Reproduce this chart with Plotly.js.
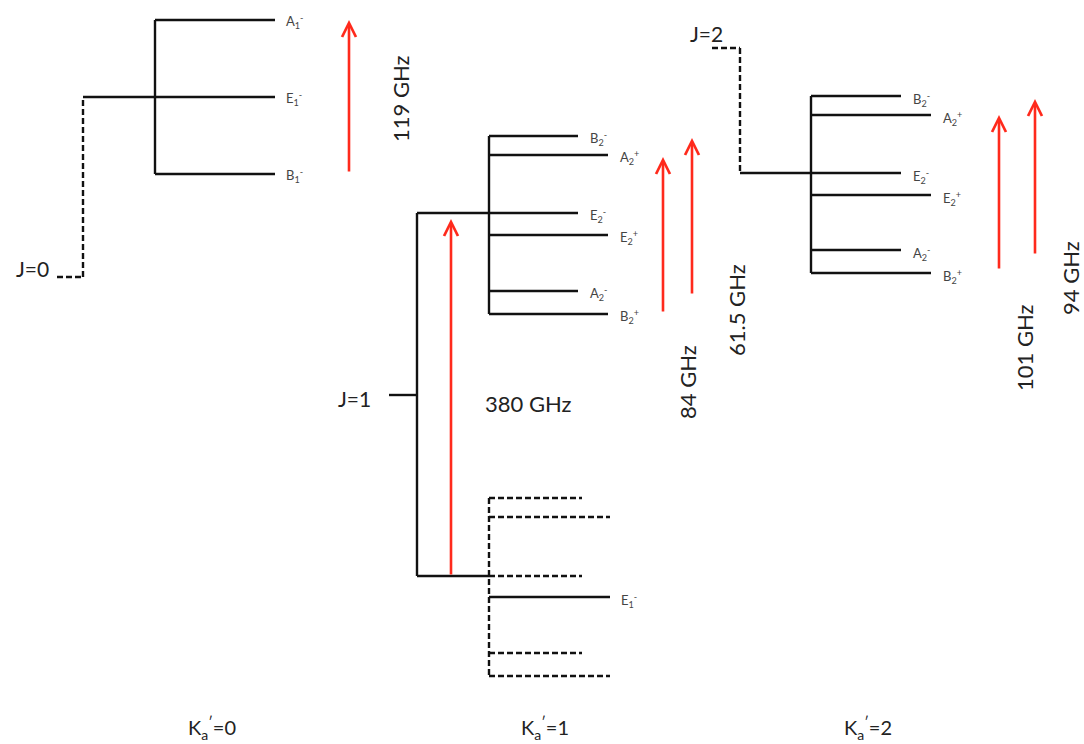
<!DOCTYPE html>
<html>
<head>
<meta charset="utf-8">
<script src="https://cdn.plot.ly/plotly-3.0.1.min.js"></script>
<style>html,body{margin:0;padding:0;background:#fff;}#chart{width:1084px;height:744px;}</style>
</head>
<body>
<div id="chart"></div>
<script>
// ---------------- DATA (level positions; y grows downward) ----------------
const groupLabels = ['K<sub>a</sub><sup>′</sup>=0', 'K<sub>a</sub><sup>′</sup>=1', 'K<sub>a</sub><sup>′</sup>=2'];
const jLabels = ['J=0', 'J=1', 'J=2'];
const jLevels = [277, 395, 48];

const k0States = ['A<sub>1</sub><sup>-</sup>', 'E<sub>1</sub><sup>-</sup>', 'B<sub>1</sub><sup>-</sup>'];
const k0Levels = [20, 97, 174];

const k1States = ['B<sub>2</sub><sup>-</sup>', 'A<sub>2</sub><sup>+</sup>', 'E<sub>2</sub><sup>-</sup>', 'E<sub>2</sub><sup>+</sup>', 'A<sub>2</sub><sup>-</sup>', 'B<sub>2</sub><sup>+</sup>'];
const k1Levels = [136, 155, 213, 235, 291, 314];

const k1LowerStates = ['', '', '', 'E<sub>1</sub><sup>-</sup>', '', ''];
const k1LowerLevels = [498, 517, 576, 597, 653, 676];
const k1LowerDashed = [true, true, true, false, true, true];

const k2States = ['B<sub>2</sub><sup>-</sup>', 'A<sub>2</sub><sup>+</sup>', 'E<sub>2</sub><sup>-</sup>', 'E<sub>2</sub><sup>+</sup>', 'A<sub>2</sub><sup>-</sup>', 'B<sub>2</sub><sup>+</sup>'];
const k2Levels = [96, 115, 173, 195, 250, 273];

const transLabels = ['119 GHz', '380 GHz', '84 GHz', '61.5 GHz', '101 GHz', '94 GHz'];
const transFrom = [173, 576, 313, 295, 270, 255];
const transTo = [20, 219, 157, 138, 115, 99];

// ---------------- GEOMETRY / STYLE ----------------
const G = {
  k0: {stub: [57, 83], trunk: 83, branch: 155, end: [275, 275, 275], lab: 284},
  k1: {stub: [389, 417], trunk: 417, branch: 489, endShort: 578, endLong: 608, lowShort: 582, lowLong: 610},
  k2: {stub: [712, 740], trunk: 740, branch: 811, endShort: 901, endLong: 931},
  transX: [349, 451, 663, 692, 999, 1035],
  transLab: [[400, 99, -90], [528, 403, 0], [687, 382, -90], [736, 310, -90], [1024, 348, -90], [1070, 278, -90]],
  jLab: [[51, 268], [373, 398], [725, 33]],
  groupLab: [212, 545, 868],
  groupLabY: 728
};
const BLACK = '#111';
const RED = '#ff2a1c';
const LW = 2.4;
const DASH = '6px,3px';
const FONT = 'Lato, "Open Sans", sans-serif';

const solid = {x: [], y: []};
const dashed = {x: [], y: []};
function seg(t, x0, y0, x1, y1) { t.x.push(x0, x1, null); t.y.push(y0, y1, null); }

const ann = [];
function stateLabel(txt, x, y) {
  if (!txt) return;
  ann.push({x: x, y: y, text: txt, showarrow: false, xanchor: 'left', yanchor: 'middle',
    font: {family: FONT, size: 13, color: '#444'}});
}

// Ka'=0
seg(dashed, G.k0.stub[0], jLevels[0], G.k0.stub[1], jLevels[0]);
seg(dashed, G.k0.trunk, jLevels[0], G.k0.trunk, k0Levels[1]);
seg(solid, G.k0.trunk, k0Levels[1], G.k0.branch, k0Levels[1]);
seg(solid, G.k0.branch, k0Levels[0], G.k0.branch, k0Levels[2]);
k0Levels.forEach((v, i) => { seg(solid, G.k0.branch, v, G.k0.end[i], v); stateLabel(k0States[i], G.k0.lab, v + 1); });

// Ka'=1
seg(solid, G.k1.stub[0], jLevels[1], G.k1.stub[1], jLevels[1]);
seg(solid, G.k1.trunk, k1Levels[2], G.k1.trunk, k1LowerLevels[2]);
seg(solid, G.k1.trunk, k1Levels[2], G.k1.branch, k1Levels[2]);
seg(solid, G.k1.trunk, k1LowerLevels[2], G.k1.branch, k1LowerLevels[2]);
seg(solid, G.k1.branch, k1Levels[0], G.k1.branch, k1Levels[5]);
k1Levels.forEach((v, i) => {
  const e = i % 2 === 0 ? G.k1.endShort : G.k1.endLong;
  seg(solid, G.k1.branch, v, e, v);
  stateLabel(k1States[i], e + 10, v + 2);
});
seg(dashed, G.k1.branch, k1LowerLevels[0], G.k1.branch, k1LowerLevels[5]);
k1LowerLevels.forEach((v, i) => {
  const e = i % 2 === 0 ? G.k1.lowShort : G.k1.lowLong;
  seg(k1LowerDashed[i] ? dashed : solid, G.k1.branch, v, e, v);
  stateLabel(k1LowerStates[i], e + 9, v + 3);
});

// Ka'=2
seg(dashed, G.k2.stub[0], jLevels[2], G.k2.stub[1], jLevels[2]);
seg(dashed, G.k2.trunk, jLevels[2], G.k2.trunk, k2Levels[2]);
seg(solid, G.k2.trunk, k2Levels[2], G.k2.branch, k2Levels[2]);
seg(solid, G.k2.branch, k2Levels[0], G.k2.branch, k2Levels[5]);
k2Levels.forEach((v, i) => {
  const e = i % 2 === 0 ? G.k2.endShort : G.k2.endLong;
  seg(solid, G.k2.branch, v, e, v);
  stateLabel(k2States[i], e + 10, v + 3);
});

// J labels
jLabels.forEach((t, i) => ann.push({x: G.jLab[i][0], y: G.jLab[i][1], text: t, showarrow: false,
  xanchor: 'right', yanchor: 'middle', font: {family: FONT, size: 21, color: '#222'}}));

// group labels
groupLabels.forEach((t, i) => ann.push({x: G.groupLab[i], y: G.groupLabY, text: t, showarrow: false,
  xanchor: 'center', yanchor: 'middle', font: {family: FONT, size: 20, color: '#222'}}));

// transitions (arrows) and their labels
transLabels.forEach((t, i) => {
  ann.push({x: G.transX[i], y: transTo[i], ax: G.transX[i], ay: transFrom[i], axref: 'x', ayref: 'y',
    xref: 'x', yref: 'y', text: '', showarrow: true, arrowhead: 5, arrowsize: 1.05, arrowwidth: 2.6,
    arrowcolor: RED, standoff: 0, startstandoff: 0});
  const p = G.transLab[i];
  ann.push({x: p[0], y: p[1], text: t, showarrow: false, textangle: p[2], xanchor: 'center', yanchor: 'middle',
    borderpad: 0, font: {family: FONT, size: 22, color: '#222'}});
});

const traces = [
  {type: 'scatter', mode: 'lines', x: solid.x, y: solid.y, line: {color: BLACK, width: LW}, hoverinfo: 'skip', showlegend: false},
  {type: 'scatter', mode: 'lines', x: dashed.x, y: dashed.y, line: {color: BLACK, width: LW, dash: DASH}, hoverinfo: 'skip', showlegend: false}
];

const layout = {
  width: 1084, height: 744,
  margin: {l: 0, r: 0, t: 0, b: 0},
  paper_bgcolor: '#fff', plot_bgcolor: '#fff',
  xaxis: {range: [0, 1084], visible: false, fixedrange: true},
  yaxis: {range: [744, 0], visible: false, fixedrange: true},
  annotations: ann,
  showlegend: false
};
Plotly.newPlot('chart', traces, layout, {staticPlot: true});
</script>
</body>
</html>
